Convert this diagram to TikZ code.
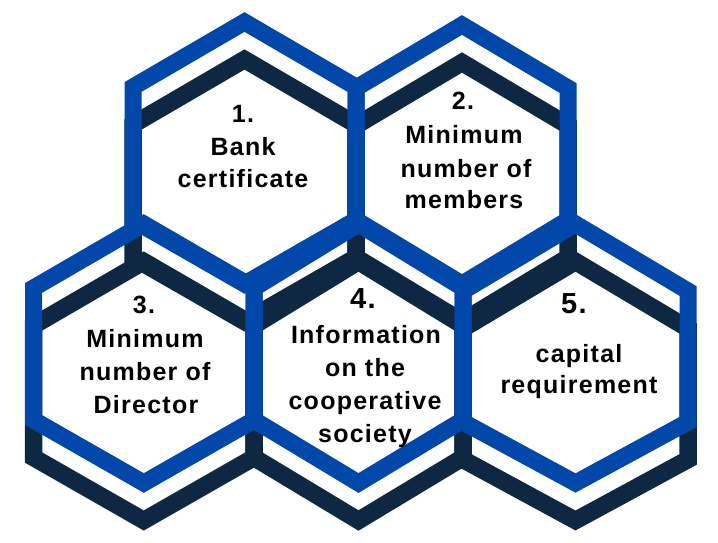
\documentclass[tikz,border=0pt]{standalone}
\usepackage{fontspec}
\setmainfont{Liberation Sans}
\newfontfamily\hexfont{Liberation Sans}[LetterSpace=5]
\definecolor{hexblue}{RGB}{2,72,170}
\definecolor{hexnavy}{RGB}{14,40,68}
\newcommand\lblfont{\hexfont\bfseries\fontsize{25pt}{29pt}\selectfont}
\newcommand\numfont{\hexfont\bfseries\fontsize{29pt}{33pt}\selectfont}
\begin{document}
\begin{tikzpicture}[x=1pt,y=-1pt,line join=miter,
  bluehex/.style={draw=hexblue,line width=17pt},
  darkhex/.style={draw=hexnavy,line width=17.5pt},
  lbl/.style={anchor=base,inner sep=0pt,font=\lblfont,text=black},
  numlbl/.style={anchor=base,inner sep=0pt,font=\numfont,text=black}]
\useasboundingbox[fill=white] (0,0) rectangle (718,543);
% dark (shifted) outlines
\foreach \xl/\xm/\xr/\yt/\yu/\yl/\yb in {
  133/244.5/356/22/87/220/284,
  356/462/568/25/88/220/284,
  33.5/143.75/254/224/288/420/483,
  254/358.5/463/224/288/420/483,
  463/575.5/688/224/291/422/483}
{
  \draw[darkhex,shift={(0,37.5)}] (\xm,\yt) -- (\xr,\yu) -- (\xr,\yl) -- (\xm,\yb) -- (\xl,\yl) -- (\xl,\yu) -- cycle;
}
% blue outlines
\foreach \xl/\xm/\xr/\yt/\yu/\yl/\yb in {
  133/244.5/356/22/87/220/284,
  356/462/568/25/88/220/284,
  33.5/143.75/254/224/288/420/483,
  254/358.5/463/224/288/420/483,
  463/575.5/688/224/291/422/483}
{
  \draw[bluehex] (\xm,\yt) -- (\xr,\yu) -- (\xr,\yl) -- (\xm,\yb) -- (\xl,\yl) -- (\xl,\yu) -- cycle;
}
% texts
\node[lbl] (n1a) at (243,122) {1.};
\node[lbl] (n1b) at (243,155) {Bank};
\node[lbl] (n1c) at (243,187) {certificate};
\node[lbl] (n2a) at (463,110) {2.};
\node[lbl] (n2b) at (464,143) {Minimum};
\node[lbl] (n2c) at (466,177) {number of};
\node[lbl] (n2d) at (464,208) {members};
\node[lbl] (n3a) at (144,313) {3.};
\node[lbl] (n3b) at (145,347) {Minimum};
\node[lbl] (n3c) at (145,380) {number of};
\node[lbl] (n3d) at (146,413) {Director};
\node[numlbl] (n4a) at (363,308) {4.};
\node[lbl] (n4b) at (366,343) {Information};
\node[lbl] (n4c) at (365,376) {on the};
\node[lbl] (n4d) at (365,409) {cooperative};
\node[lbl] (n4e) at (365,442) {society};
\node[numlbl] (n5a) at (574,313) {5.};
\node[lbl] (n5b) at (579,362) {capital};
\node[lbl] (n5c) at (579,393) {requirement};
\end{tikzpicture}
\end{document}
